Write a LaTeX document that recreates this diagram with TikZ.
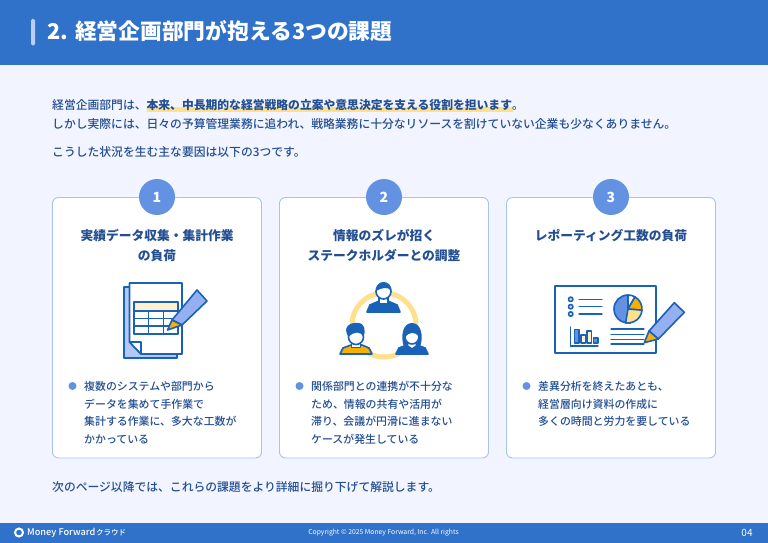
\documentclass[tikz,border=0pt]{standalone}
\usepackage{fontspec}
\setmainfont{Noto Sans CJK JP}
\newfontfamily\midfont{Noto Sans CJK JP Medium}
\definecolor{barblue}{HTML}{3071C9}
\definecolor{pageblue}{HTML}{F2F5FF}
\definecolor{edgeblue}{HTML}{A9C2F2}
\definecolor{roundblue}{HTML}{6492E2}
\definecolor{inkblue}{HTML}{234E92}
\definecolor{linkblue}{HTML}{1A62B8}
\definecolor{softblue}{HTML}{94B0F0}
\definecolor{markyellow}{HTML}{FFE08C}
\definecolor{paleyellow}{HTML}{FFF1CC}
\definecolor{tiporange}{HTML}{F7B000}
\tikzset{
	line/.style={anchor=base west,inner sep=0,text=inkblue,font=\fontsize{11.8}{14}\midfont},
	item/.style={anchor=base west,inner sep=0,text=inkblue,font=\fontsize{10.9}{14}\midfont},
	head/.style={anchor=base,inner sep=0,text=inkblue,font=\fontsize{12.75}{16}\bfseries\selectfont},
	card/.style={draw=edgeblue,fill=white,rounded corners=6,line width=0.9},
	badge/.style={circle,fill=roundblue,minimum size=36,inner sep=0,text=white,font=\fontsize{14}{16}\bfseries\selectfont},
	bullet/.style={circle,fill=roundblue,minimum size=8,inner sep=0},
	ink/.style={draw=linkblue,line width=1.6,line join=round},
	thin/.style={draw=linkblue,line width=1.3,line cap=round},
	foot/.style={inner sep=0,text=white}
}
\begin{document}
\begin{tikzpicture}[x=1pt,y=-1pt]
	\useasboundingbox (0,0) rectangle (768,543);
	\fill[pageblue] (0,0) rectangle (768,543);

	% шапка
	\fill[barblue] (0,0) rectangle (768,65.5);
	\fill[edgeblue!80!white,rounded corners=1.5] (31,19) rectangle (35,45.5);
	\node[anchor=base west,inner sep=0,text=white,font=\fontsize{21.75}{24}\bfseries\selectfont] (title) at (47.5,40) {2. 経営企画部門が抱える3つの課題};

	% вступление
	\fill[markyellow] (147,106.5) rectangle (513,112);
	\node[line] (intro1) at (52,109) {経営企画部門は、{\normalfont\bfseries 本来、中長期的な経営戦略の立案や意思決定を支える役割を担います}。};
	\node[line] (intro2) at (52,128) {しかし実際には、日々の予算管理業務に追われ、戦略業務に十分なリソースを割けていない企業も少なくありません。};
	\node[line] (intro3) at (52,156) {こうした状況を生む主な要因は以下の3つです。};

	% карточки
	\draw[card] (52.5,197.5) rectangle (261.5,458);
	\draw[card] (279.5,197.5) rectangle (488.5,458);
	\draw[card] (506.5,197.5) rectangle (715.5,458);
	\node[badge] (badge1) at (157,197) {1};
	\node[badge] (badge2) at (384,197) {2};
	\node[badge] (badge3) at (611,197) {3};

	% заголовки
	\node[head] (head1a) at (157,240) {実績データ収集・集計作業};
	\node[head] (head1b) at (157,260) {の負荷};
	\node[head] (head2a) at (384,240) {情報のズレが招く};
	\node[head] (head2b) at (384,260) {ステークホルダーとの調整};
	\node[head] (head3a) at (611,240) {レポーティング工数の負荷};

	% первый рисунок
	\draw[ink,fill=softblue!70!white] (124,287) rectangle (177,358);
	\draw[ink,fill=white] (129.5,283) -- (182,283) -- (182,354) -- (141,354) -- (129.5,342) -- cycle;
	\draw[ink,fill=white] (129.5,342) -- (141,342) -- (141,354) -- cycle;
	\draw[ink,fill=paleyellow] (134,302) rectangle (178,311);
	\draw[ink] (134,311) rectangle (178,334);
	\draw[ink] (134,318.5) -- (178,318.5);
	\draw[ink] (134,326) -- (178,326);
	\draw[ink] (148.5,311) -- (148.5,334);
	\draw[ink] (163.5,311) -- (163.5,334);
	\draw[ink,fill=softblue] (172,320) -- (197,290) -- (207,301) -- (182,325) -- cycle;
	\draw[ink,fill=tiporange] (172,320) -- (182,325) -- (167.5,330) -- cycle;

	% второй рисунок
	\draw[markyellow,line width=5] (384,325) circle (32);
	% верхний
	\draw[ink,fill=linkblue] (367,312) -- (370,305) -- (378,301.5) -- (389,301.5) -- (397,305) -- (400,312) -- cycle;
	\draw[ink,fill=white] (379,297) rectangle (388,303.5);
	\draw[ink,fill=white] (383.5,291.5) circle (7.5);
	\fill[linkblue] (376,291) .. controls (375,279) and (392,279) .. (391.5,291) .. controls (388,286) and (381,288) .. (376,291);
	% левый
	\draw[ink,fill=tiporange] (340,354) -- (343,348) -- (351,345) -- (362,345) -- (369,348) -- (372,354) -- cycle;
	\draw[ink,fill=white] (351.5,341) rectangle (360.5,347.5);
	\draw[ink,fill=white] (356,337) circle (7.5);
	\fill[linkblue] (348.5,337) .. controls (342,327) and (350,322) .. (358,323) .. controls (365,323) and (366,331) .. (363.5,337) .. controls (361,331) and (354,331) .. (348.5,337);
	% правый
	\fill[linkblue] (404,347) .. controls (400,336) and (403,323) .. (412,323) .. controls (421,323) and (424,336) .. (420,347) -- cycle;
	\draw[ink,fill=linkblue] (396,354) -- (399,348) -- (407,345) -- (417,345) -- (425,348) -- (428,354) -- cycle;
	\draw[ink,fill=white] (407.5,341) -- (416.5,341) -- (416.5,346) -- (412,349) -- (407.5,346) -- cycle;
	\draw[ink,fill=white] (412,337) circle (7);
	\fill[linkblue] (405,337) .. controls (405,327) and (419,327) .. (419,337) .. controls (415,331) and (409,332) .. (405,337);

	% третий рисунок
	\draw[ink,fill=white] (555,286) rectangle (656,353);
	\draw[ink,fill=softblue!40!white] (570.7,299.3) circle (2.2);
	\draw[ink,fill=softblue!40!white] (570.7,306.7) circle (2.2);
	\draw[ink,fill=softblue!40!white] (570.7,314) circle (2.2);
	\draw[thin] (579,299.3) -- (602,299.3);
	\draw[thin] (579,306.7) -- (602,306.7);
	\draw[thin] (579,314) -- (602,314);
	\draw[ink,fill=roundblue] (628,309) -- (628,295) arc[start angle=-90,delta angle=-190,radius=14] -- cycle;
	\draw[ink,fill=white] (628,309) -- (628,295) arc[start angle=-90,delta angle=30,radius=14] -- cycle;
	\draw[ink,fill=tiporange] (628,309) -- (635,296.9) arc[start angle=-60,delta angle=65,radius=14] -- cycle;
	\draw[ink,fill=markyellow] (628,309) -- (642,310.2) arc[start angle=5,delta angle=95,radius=14] -- cycle;
	\draw[thin] (570.7,327) -- (570.7,346) -- (598,346);
	\draw[ink,fill=roundblue] (574.5,329.5) rectangle (579,343);
	\draw[ink,fill=paleyellow] (581,335) rectangle (585.5,343);
	\draw[ink,fill=paleyellow] (587,331) rectangle (591.5,343);
	\draw[ink,fill=roundblue] (593.5,338) rectangle (598,343);
	\draw[thin] (611,329) -- (644,329);
	\draw[thin] (611,334.3) -- (644,334.3);
	\draw[thin] (611,339.3) -- (644,339.3);
	\draw[thin] (611,344) -- (644,344);
	\draw[ink,fill=softblue] (649,331) -- (674.3,302.7) -- (684.3,312.3) -- (658.3,339) -- cycle;
	\draw[ink,fill=tiporange] (649,331) -- (658.3,339) -- (644.3,342.7) -- cycle;

	% списки
	\node[bullet] (dot1) at (72.5,386) {};
	\node[item] (item1a) at (84,390) {複数のシステムや部門から};
	\node[item] (item1b) at (84,408) {データを集めて手作業で};
	\node[item] (item1c) at (84,425.5) {集計する作業に、多大な工数が};
	\node[item] (item1d) at (84,443) {かかっている};
	\node[bullet] (dot2) at (299.5,386) {};
	\node[item] (item2a) at (311,390) {関係部門との連携が不十分な};
	\node[item] (item2b) at (311,408) {ため、情報の共有や活用が};
	\node[item] (item2c) at (311,425.5) {滞り、会議が円滑に進まない};
	\node[item] (item2d) at (311,443) {ケースが発生している};
	\node[bullet] (dot3) at (526.5,386) {};
	\node[item] (item3a) at (538,390) {差異分析を終えたあとも、};
	\node[item] (item3b) at (538,408) {経営層向け資料の作成に};
	\node[item] (item3c) at (538,425.5) {多くの時間と労力を要している};

	\node[line] (outro) at (52,491) {次のページ以降では、これらの課題をより詳細に掘り下げて解説します。};

	% подвал
	\fill[barblue] (0,523) rectangle (768,543);
	\node[circle,draw=white,line width=2,minimum size=8,inner sep=0] (logo) at (19,532.5) {};
	\node[foot,anchor=west,font=\fontsize{9.2}{10}\midfont] (brand) at (27,532.5) {Money Forward};
	\node[foot,anchor=west,font=\fontsize{7.5}{10}\midfont] (cloud) at (96,532.5) {クラウド};
	\node[foot,font=\fontsize{6.8}{8}\selectfont] (copy) at (383.5,532.5) {Copyright © 2025 Money Forward, Inc. All rights};
	\node[foot,font=\fontsize{10}{11}\selectfont] (page) at (747,532.5) {04};
\end{tikzpicture}
\end{document}
